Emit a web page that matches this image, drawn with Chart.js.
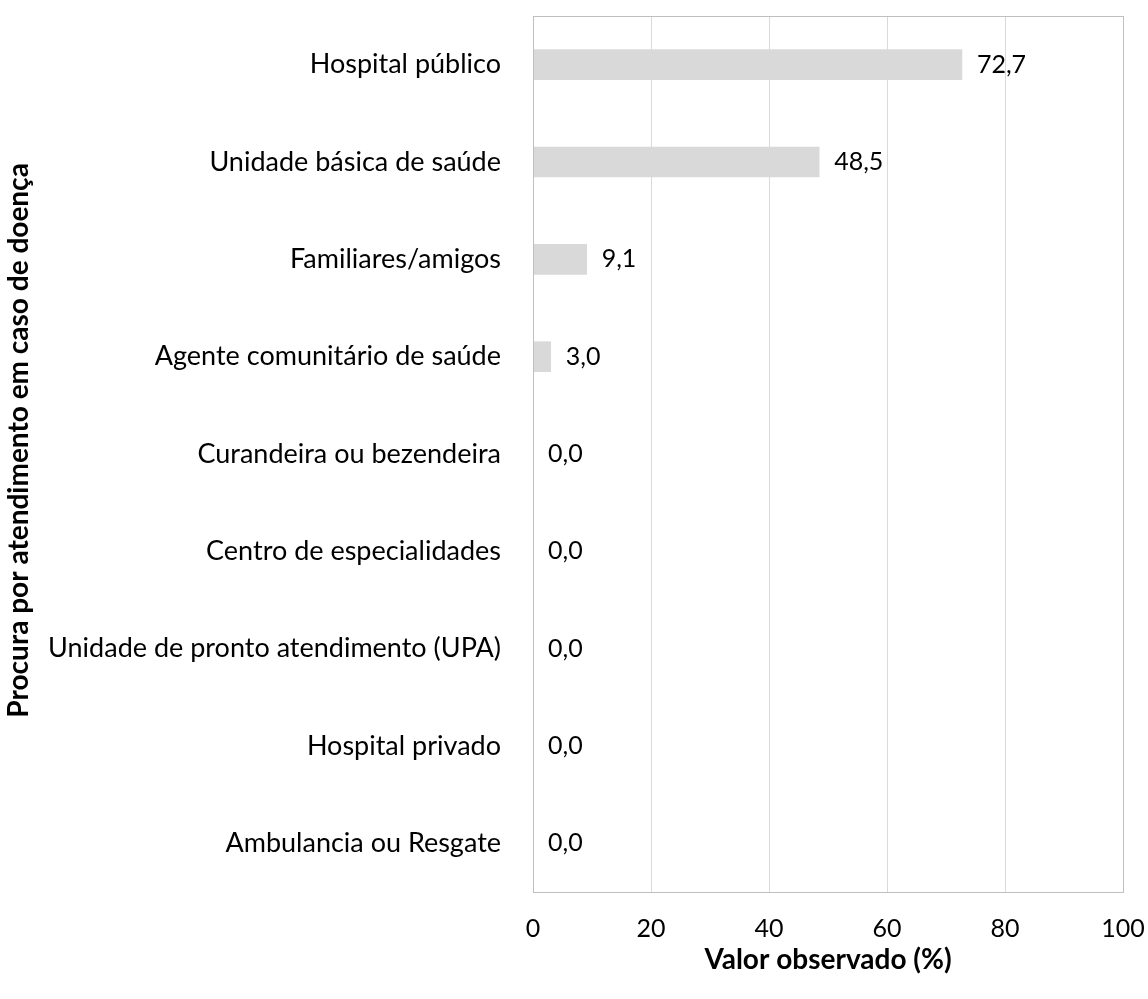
<!DOCTYPE html>
<html>
<head>
<meta charset="utf-8">
<script src="https://cdn.jsdelivr.net/npm/chart.js@4/dist/chart.umd.min.js"></script>
<style>
  html, body { margin: 0; padding: 0; background: #fff; }
  #wrap { width: 1148px; height: 999px; }
</style>
</head>
<body>
<div id="wrap"><canvas id="chart1" width="1148" height="999"></canvas></div>
<script>
// data
var categories = ['Hospital público', 'Unidade básica de saúde', 'Familiares/amigos',
  'Agente comunitário de saúde', 'Curandeira ou bezendeira', 'Centro de especialidades',
  'Unidade de pronto atendimento (UPA)', 'Hospital privado', 'Ambulancia ou Resgate'];
var values = [72.7, 48.5, 9.1, 3.0, 0.0, 0.0, 0.0, 0.0, 0.0];
var xTicks = [0, 20, 40, 60, 80, 100];

var FONT = 'Lato';

// value labels at the end of each bar
var barLabels = {
  id: 'barLabels',
  afterDatasetsDraw: function (chart) {
    var ctx = chart.ctx;
    var meta = chart.getDatasetMeta(0);
    ctx.save();
    ctx.font = '25px ' + FONT;
    ctx.fillStyle = '#000';
    ctx.textAlign = 'left';
    ctx.textBaseline = 'middle';
    meta.data.forEach(function (bar, i) {
      ctx.fillText(values[i].toFixed(1).replace('.', ','), bar.x + 15, bar.y);
    });
    ctx.restore();
  }
};

// frame round the plot area
var frame = {
  id: 'frame',
  afterDraw: function (chart) {
    var a = chart.chartArea, ctx = chart.ctx;
    ctx.save();
    ctx.strokeStyle = '#bfbfbf';
    ctx.lineWidth = 1;
    ctx.strokeRect(a.left + 0.5, a.top + 0.5, a.right - a.left, a.bottom - a.top);
    ctx.restore();
  }
};

function noPad(scale) {
  scale.paddingTop = 0;
  scale.paddingBottom = 0;
  scale.paddingLeft = 0;
  scale.paddingRight = 0;
}

var graph = document.getElementById('chart1');

var myChart = new Chart(graph, {
  type: 'bar',
  data: {
    labels: categories,
    datasets: [{
      data: values,
      backgroundColor: '#d9d9d9',
      barThickness: 30
    }]
  },
  plugins: [barLabels, frame],
  options: {
    indexAxis: 'y',
    responsive: false,
    animation: false,
    layout: { padding: { top: 16, right: 25, left: 0, bottom: 0 } },
    plugins: {
      legend: { display: false },
      tooltip: { enabled: false }
    },
    scales: {
      x: {
        min: 0,
        max: 100,
        afterBuildTicks: function (scale) {
          scale.ticks = xTicks.map(function (v) { return { value: v }; });
        },
        afterFit: function (scale) { scale.height = 107; noPad(scale); },
        grid: { color: '#d9d9d9', drawTicks: false },
        border: { color: '#bfbfbf' },
        ticks: {
          padding: 22,
          color: '#000',
          maxRotation: 0,
          font: { family: FONT, size: 25 }
        },
        title: {
          display: true,
          text: 'Valor observado (%)',
          color: '#000',
          padding: { bottom: 22 },
          font: { family: FONT, size: 28, weight: 'bold' }
        }
      },
      y: {
        afterFit: function (scale) { scale.width = 533; noPad(scale); },
        grid: { display: false, drawTicks: false },
        border: { color: '#bfbfbf' },
        ticks: {
          padding: 32,
          color: '#000',
          font: { family: FONT, size: 27 }
        },
        title: {
          display: true,
          // leading spaces nudge the rotated title a little upward
          text: '    Procura por atendimento em caso de doença',
          color: '#000',
          padding: { top: 2 },
          font: { family: FONT, size: 28, weight: 'bold' }
        }
      }
    }
  }
});
</script>
</body>
</html>
